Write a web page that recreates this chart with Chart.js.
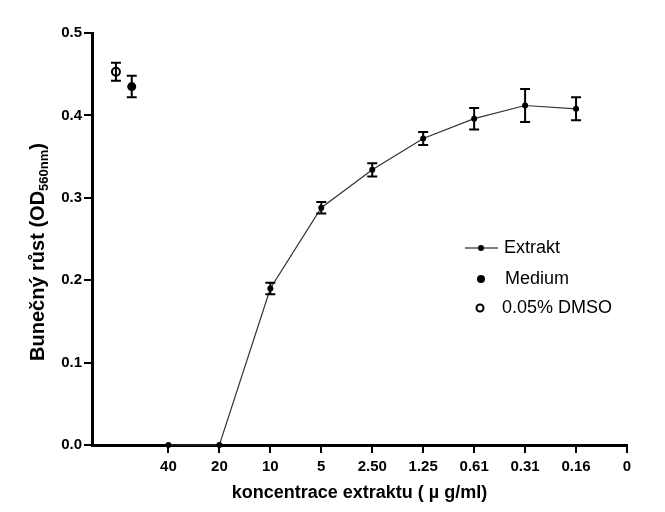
<!DOCTYPE html>
<html>
<head>
<meta charset="utf-8">
<script src="https://cdn.jsdelivr.net/npm/chart.js@4.4.1/dist/chart.umd.min.js"></script>
<style>
  html, body { margin: 0; padding: 0; background: #fff; }
  #wrap { width: 665px; height: 512px; }
</style>
</head>
<body>
<div id="wrap"><canvas id="chart" width="665" height="512"></canvas></div>
<script>
// Data
const concLabels = ['40', '20', '10', '5', '2.50', '1.25', '0.61', '0.31', '0.16', '0'];
const extraktValues = [0, 0, 0.190, 0.288, 0.334, 0.372, 0.396, 0.412, 0.408];
const extraktErrors = [0, 0, 0.007, 0.007, 0.008, 0.008, 0.013, 0.020, 0.014];
const mediumValues = [0.435];
const mediumErrors = [0.013];
const dmsoValues = [0.453];
const dmsoErrors = [0.011];
// controls sit left of the first concentration (in category units)
const mediumPositions = [-0.72];
const dmsoPositions = [-1.03];
const yTicks = [0, 0.1, 0.2, 0.3, 0.4, 0.5];

const FONT = "'Liberation Sans', Arial, sans-serif";

const toPoints = (xs, ys) => ys.map((y, i) => ({ x: xs[i], y }));

const errorBars = {
    id: 'errorBars',
    afterDatasetsDraw(chart) {
        const { ctx, scales: { x, y } } = chart;
        ctx.save();
        ctx.strokeStyle = '#000';
        ctx.lineWidth = 2;
        chart.data.datasets.forEach(ds => {
            if (!ds.errors) return;
            ds.data.forEach((p, i) => {
                const err = ds.errors[i];
                if (!err) return;
                const px = x.getPixelForValue(p.x);
                const top = y.getPixelForValue(p.y + err);
                const bot = y.getPixelForValue(p.y - err);
                ctx.beginPath();
                ctx.moveTo(px, top); ctx.lineTo(px, bot);
                ctx.moveTo(px - 5, top); ctx.lineTo(px + 5, top);
                ctx.moveTo(px - 5, bot); ctx.lineTo(px + 5, bot);
                ctx.stroke();
            });
        });
        ctx.restore();
    }
};

// y title with subscript, and the in-plot legend
const annotations = {
    id: 'annotations',
    afterDraw(chart) {
        const { ctx } = chart;
        ctx.save();
        // y axis title
        const main = 'Bunečný růst (OD';
        const sub = '560nm';
        const tail = ')';
        const bigFont = 'bold 20px ' + FONT;
        const smallFont = 'bold 13px ' + FONT;
        ctx.font = bigFont;
        const wMain = ctx.measureText(main).width;
        const wTail = ctx.measureText(tail).width;
        ctx.font = smallFont;
        const wSub = ctx.measureText(sub).width;
        const total = wMain + wSub + wTail;
        ctx.translate(44, 252);
        ctx.rotate(-Math.PI / 2);
        ctx.fillStyle = '#000';
        ctx.textBaseline = 'alphabetic';
        ctx.textAlign = 'left';
        let cx = -total / 2;
        ctx.font = bigFont;
        ctx.fillText(main, cx, 0);
        cx += wMain;
        ctx.font = smallFont;
        ctx.fillText(sub, cx, 4);
        cx += wSub;
        ctx.font = bigFont;
        ctx.fillText(tail, cx, 0);
        ctx.restore();

        // legend
        ctx.save();
        ctx.fillStyle = '#000';
        ctx.strokeStyle = '#000';
        ctx.font = '18px ' + FONT;
        ctx.textBaseline = 'middle';
        const lx = 481, tx = 504;
        const rows = [248, 279, 308];
        ctx.lineWidth = 1;
        ctx.beginPath(); ctx.moveTo(465, rows[0]); ctx.lineTo(498, rows[0]); ctx.stroke();
        ctx.beginPath(); ctx.arc(lx, rows[0], 3, 0, Math.PI * 2); ctx.fill();
        ctx.fillText('Extrakt', tx, rows[0]);
        ctx.beginPath(); ctx.arc(lx, rows[1], 4, 0, Math.PI * 2); ctx.fill();
        ctx.fillText('Medium', tx + 1, rows[1]);
        ctx.lineWidth = 2;
        ctx.beginPath(); ctx.arc(lx - 1, rows[2], 3.5, 0, Math.PI * 2); ctx.stroke();
        ctx.fillText('0.05% DMSO', tx - 2, rows[2]);
        ctx.restore();
    }
};

const extraktX = extraktValues.map((_, i) => i);

new Chart(document.getElementById('chart'), {
    type: 'line',
    data: {
        datasets: [
            {
                label: 'Extrakt',
                data: toPoints(extraktX, extraktValues),
                errors: extraktErrors,
                borderColor: '#333',
                borderWidth: 1.2,
                pointRadius: 3,
                pointBackgroundColor: '#000',
                pointBorderWidth: 0,
                tension: 0,
                clip: false
            },
            {
                label: 'Medium',
                data: toPoints(mediumPositions, mediumValues),
                errors: mediumErrors,
                showLine: false,
                pointRadius: 4.5,
                pointBackgroundColor: '#000',
                pointBorderWidth: 0,
                clip: false
            },
            {
                label: '0.05% DMSO',
                data: toPoints(dmsoPositions, dmsoValues),
                errors: dmsoErrors,
                showLine: false,
                pointRadius: 4,
                pointBackgroundColor: '#fff',
                pointBorderColor: '#000',
                pointBorderWidth: 2,
                clip: false
            }
        ]
    },
    options: {
        responsive: false,
        animation: false,
        layout: { padding: { left: 0, right: 38, top: 33, bottom: 8 } },
        plugins: {
            legend: { display: false },
            tooltip: { enabled: false }
        },
        scales: {
            x: {
                type: 'linear',
                min: -1.5,
                max: concLabels.length - 1,
                afterBuildTicks: scale => {
                    scale.ticks = concLabels.map((_, i) => ({ value: i }));
                },
                afterFit: scale => { scale.height = 59; },
                grid: {
                    drawOnChartArea: false,
                    color: '#000',
                    lineWidth: 2,
                    tickLength: 8
                },
                border: { display: true, color: '#000', width: 3 },
                ticks: {
                    color: '#000',
                    font: { family: FONT, size: 15, weight: 'bold' },
                    padding: 5,
                    autoSkip: false,
                    maxRotation: 0,
                    callback: v => concLabels[v]
                },
                title: {
                    display: true,
                    text: 'koncentrace extraktu ( \u00b5 g/ml)',
                    color: '#000',
                    font: { family: FONT, size: 18, weight: 'bold' },
                    padding: { top: 4, bottom: 0 }
                }
            },
            y: {
                min: 0,
                max: 0.5,
                afterBuildTicks: scale => {
                    scale.ticks = yTicks.map(v => ({ value: v }));
                },
                afterFit: scale => { scale.width = 92; },
                grid: {
                    drawOnChartArea: false,
                    color: '#000',
                    lineWidth: 2,
                    tickLength: 8
                },
                border: { display: true, color: '#000', width: 3 },
                ticks: {
                    color: '#000',
                    font: { family: FONT, size: 15, weight: 'bold' },
                    padding: 2,
                    callback: v => v.toFixed(1)
                }
            }
        }
    },
    plugins: [errorBars, annotations]
});
</script>
</body>
</html>
